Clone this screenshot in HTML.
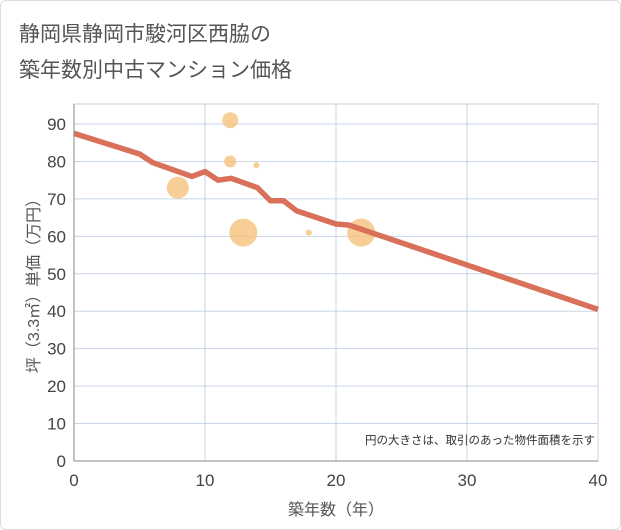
<!DOCTYPE html>
<html><head><meta charset="utf-8"><style>
body{margin:0;background:#fff;}
#wrap{width:621px;height:530px;position:relative;background:#fff;border:1px solid #ddd;box-sizing:border-box;border-radius:6px;overflow:hidden}
svg text{font-family:"Liberation Sans","Noto Sans CJK JP",sans-serif;}
</style></head><body>
<div id="wrap">
<svg id="c" width="621" height="530">
<text x="18" y="40" font-size="21" fill="#555">静岡県静岡市駿河区西脇の</text>
<text x="18" y="76" font-size="21" fill="#555">築年数別中古マンション価格</text>
<g id="grid"></g><g id="bubbles"></g><g id="line"></g><g id="axes"></g>
<text x="594" y="443" font-size="11.5" fill="#333" text-anchor="end">円の大きさは、取引のあった物件面積を示す</text>
<text x="335" y="514" font-size="16" fill="#555" text-anchor="middle">築年数（年）</text>
<text transform="translate(38,281) rotate(-90)" font-size="16" fill="#555" text-anchor="middle">坪（3.3㎡）単価（万円）</text>
</svg></div>
<script>
const xTicks=[0,10,20,30,40];
const yTicks=[0,10,20,30,40,50,60,70,80,90];
const lineX=[0,5,6,9,10,11,12,14,15,16,17,20,21,40];
const lineY=[87.5,82,79.7,76,77.3,75,75.5,73,69.5,69.5,66.8,63.3,63,40.5];
const bubX=[8,12,12,14,13,18,22];
const bubY=[73,91,80,79,61,61,61];
const bubR=[11,8,6,3,14,3,14];
const L=73,R=597,T=103,B=460;
const sx=v=>L+(R-L)*v/40, sy=v=>B-(B-123)*v/90;
const NS="http://www.w3.org/2000/svg";
function mk(t,a,p){const e=document.createElementNS(NS,t);for(const k in a)e.setAttribute(k,a[k]);p.appendChild(e);return e;}
const g=document.getElementById('grid'),ax=document.getElementById('axes');
mk('rect',{x:L,y:T,width:R-L,height:B-T,fill:'none',stroke:'#ccc'},g);
yTicks.forEach(v=>{const l=mk('line',{x1:L,x2:R,y1:sy(v),y2:sy(v),stroke:'#c9d6e6'},g);

const t=mk('text',{x:L-8,y:sy(v)+6,'font-size':17,fill:'#444','text-anchor':'end'},ax);t.textContent=v;
});
xTicks.forEach(v=>{const l=mk('line',{x1:sx(v),x2:sx(v),y1:T,y2:B,stroke:'#c9d6e6'},g);

const t=mk('text',{x:sx(v),y:B+25,'font-size':17,fill:'#444','text-anchor':'middle'},ax);t.textContent=v;
});
mk('line',{x1:L,x2:L,y1:T,y2:B,stroke:'#888'},ax);mk('line',{x1:L,x2:R,y1:B,y2:B,stroke:'#888'},ax);
const bg=document.getElementById('bubbles');
bubX.forEach((x,i)=>{const c=mk('circle',{cx:sx(x)-1,cy:sy(bubY[i]),r:bubR[i],fill:'#f5c27a',opacity:0.8},bg);
});
const p=mk('polyline',{points:lineX.map((x,i)=>sx(x)+','+sy(lineY[i])).join(' '),fill:'none',stroke:'#d9705a','stroke-width':5.5,'stroke-linejoin':'round'},document.getElementById('line'));

</script></body></html>
